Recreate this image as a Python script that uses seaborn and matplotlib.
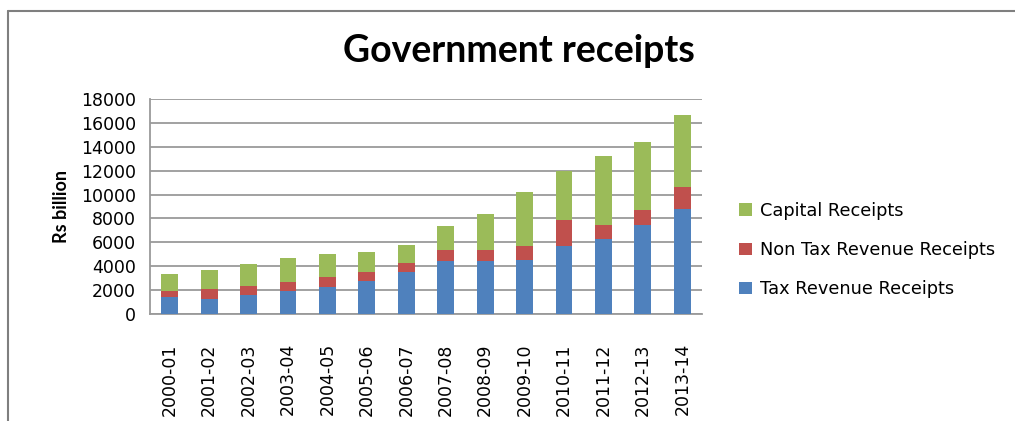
import matplotlib
matplotlib.use("Agg")
import matplotlib.pyplot as plt
from matplotlib.patches import Patch
import seaborn as sns
import pandas as pd
import numpy as np

years = ["2000-01", "2001-02", "2002-03", "2003-04", "2004-05", "2005-06", "2006-07",
         "2007-08", "2008-09", "2009-10", "2010-11", "2011-12", "2012-13", "2013-14"]
tax_revenue = [1390, 1280, 1560, 1890, 2230, 2730, 3480,
               4400, 4400, 4560, 5730, 6320, 7430, 8820]
non_tax_revenue = [500, 780, 750, 750, 830, 750, 830,
                   1000, 1000, 1170, 2170, 1170, 1310, 1780]
capital_receipts = [1420, 1590, 1840, 2090, 2000, 1750, 1500,
                    2000, 3000, 4510, 4060, 5700, 5620, 6040]

series_names = ["Tax Revenue Receipts", "Non Tax Revenue Receipts", "Capital Receipts"]
series_colors = ["#4F81BD", "#C0504D", "#9BBB59"]

df = pd.DataFrame({
    "year": years,
    series_names[0]: tax_revenue,
    series_names[1]: non_tax_revenue,
    series_names[2]: capital_receipts,
})

sns.set_theme(style="white")
plt.rcParams["font.family"] = ["DejaVu Sans"]
plt.rcParams["text.color"] = "#000000"
plt.rcParams["axes.labelcolor"] = "#000000"
plt.rcParams["xtick.color"] = "#000000"
plt.rcParams["ytick.color"] = "#000000"

fig = plt.figure(figsize=(10.15, 4.21), dpi=100)
ax = fig.add_axes([150 / 1015, 1 - 314 / 421, 552 / 1015, 215 / 421])

bottom = np.zeros(len(years))
for name, color in zip(series_names, series_colors):
    sns.barplot(data=df, x="year", y=name, color=color, bottom=bottom,
                width=0.43, saturation=1, ax=ax, zorder=3, linewidth=0)
    bottom = bottom + df[name].to_numpy()

grid_gray = "#9a9a9a"
ax.set_ylim(0, 18000)
ax.set_xlim(-0.5, len(years) - 0.5)
ax.set_yticks(np.arange(0, 18001, 2000))
ax.set_yticklabels([str(v) for v in range(0, 18001, 2000)], fontsize=12.5)
ax.yaxis.grid(True, color=grid_gray, linewidth=1.3, zorder=0)
ax.set_axisbelow(True)

# category labels at bar centres, tick marks at category boundaries
ax.set_xticks(np.arange(len(years)))
ax.set_xticklabels(years, rotation=90, fontsize=12.5)
ax.tick_params(axis="x", which="major", length=0, pad=21)
ax.set_xticks(np.arange(-0.5, len(years)), minor=True)
ax.tick_params(axis="x", which="minor", length=6, color=grid_gray, width=1.2, direction="out")
ax.tick_params(axis="y", length=6, color=grid_gray, width=1.2, direction="out", pad=4)
ax.set_xlabel("")
ax.set_ylabel("Rs billion", fontsize=13, fontweight="bold", labelpad=8,
              family=["Lato", "DejaVu Sans"])

for side in ["top", "right"]:
    ax.spines[side].set_visible(False)
for side in ["left", "bottom"]:
    ax.spines[side].set_color(grid_gray)
    ax.spines[side].set_linewidth(1.3)

fig.text(519 / 1015, 1 - 51 / 421, "Government receipts", ha="center", va="center",
         fontsize=27, fontweight="bold", family=["Lato", "DejaVu Sans"])

handles = [Patch(facecolor=c, edgecolor="none", label=n)
           for n, c in zip(series_names[::-1], series_colors[::-1])]
fig.legend(handles=handles, loc="center left", bbox_to_anchor=(732 / 1015, 1 - 250 / 421),
           frameon=False, fontsize=12.8, handlelength=0.7, handleheight=0.7,
           handletextpad=0.45, labelspacing=1.2, borderaxespad=0)

# outer chart frame
fig.add_artist(plt.Line2D([8 / 1015, 1.0], [1 - 11 / 421, 1 - 11 / 421],
                          transform=fig.transFigure, color="#7f7f7f", linewidth=1.5))
fig.add_artist(plt.Line2D([8 / 1015, 8 / 1015], [0, 1 - 11 / 421],
                          transform=fig.transFigure, color="#7f7f7f", linewidth=1.5))

fig.savefig("out.png", dpi=100)
